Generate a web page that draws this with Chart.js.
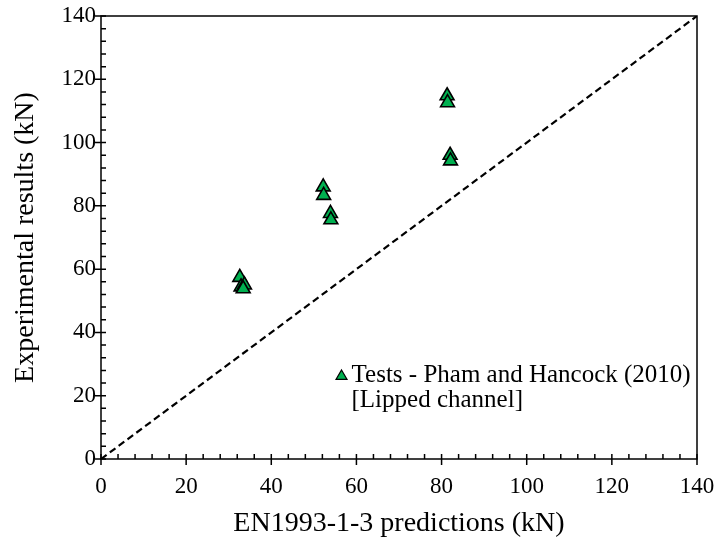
<!DOCTYPE html>
<html>
<head>
<meta charset="utf-8">
<script src="https://cdn.jsdelivr.net/npm/chart.js"></script>
<style>
  html, body { margin: 0; padding: 0; background: #fff; }
  #wrap { width: 716px; height: 543px; }
</style>
</head>
<body>
<div id="wrap"><canvas id="c" width="716" height="543"></canvas></div>
<script>
// EN1993-1-3 predictions (kN) vs experimental results (kN)
const predicted = [32.6, 32.9, 33.7, 33.4, 52.2, 52.3, 53.9, 54.0, 81.3, 81.4, 82.0, 82.1];
const experimental = [57.4, 54.4, 55.0, 53.8, 86.0, 83.3, 77.6, 75.6, 114.8, 112.6, 96.0, 94.2];
const equality = [0, 140];
const seriesLabel = ['Tests - Pham and Hancock (2010)', '[Lipped channel]'];
const xTitle = 'EN1993-1-3 predictions (kN)';
const yTitle = 'Experimental results (kN)';

const green = '#00b050';
const serif = "'Liberation Serif', 'Times New Roman', serif";

// frame + ticks (major outward, minor inward) + legend inside the plot
const framePlugin = {
  id: 'frame',
  afterDraw(chart) {
    const ctx = chart.ctx, a = chart.chartArea;
    const xs = chart.scales.x, ys = chart.scales.y;
    ctx.save();
    ctx.strokeStyle = '#000';
    ctx.lineWidth = 1.5;
    ctx.strokeRect(a.left, a.top, a.right - a.left, a.bottom - a.top);
    ctx.beginPath();
    for (let v = 0; v <= 140; v += 4) {
      const px = xs.getPixelForValue(v), py = ys.getPixelForValue(v);
      const major = v % 20 === 0;
      if (major) {
        ctx.moveTo(px, a.bottom - 5); ctx.lineTo(px, a.bottom + 6);
        ctx.moveTo(a.left - 6, py); ctx.lineTo(a.left + 5, py);
      } else {
        ctx.moveTo(px, a.bottom); ctx.lineTo(px, a.bottom - 5);
        ctx.moveTo(a.left, py); ctx.lineTo(a.left + 5, py);
      }
    }
    ctx.stroke();

    // legend
    const lx = xs.getPixelForValue(56.5), ly = ys.getPixelForValue(26.4);
    ctx.beginPath();
    ctx.moveTo(lx, ly - 5.5);
    ctx.lineTo(lx + 5.5, ly + 4);
    ctx.lineTo(lx - 5.5, ly + 4);
    ctx.closePath();
    ctx.fillStyle = green; ctx.fill();
    ctx.lineWidth = 1.2; ctx.stroke();
    ctx.fillStyle = '#000';
    ctx.font = '25px ' + serif;
    ctx.textBaseline = 'middle';
    ctx.fillText(seriesLabel[0], lx + 10, ly);
    ctx.fillText(seriesLabel[1], lx + 10, ly + 25);
    ctx.restore();
  }
};

new Chart(document.getElementById('c'), {
  type: 'scatter',
  data: {
    datasets: [
      {
        label: seriesLabel.join(' '),
        data: predicted.map((x, i) => ({ x: x, y: experimental[i] })),
        pointStyle: 'triangle',
        pointRadius: 8,
        backgroundColor: green,
        borderColor: '#000',
        borderWidth: 1.6
      },
      {
        label: 'equality',
        type: 'line',
        data: equality.map(v => ({ x: v, y: v })),
        borderColor: '#000',
        borderWidth: 2.2,
        borderDash: [7, 4],
        pointRadius: 0,
        fill: false
      }
    ]
  },
  plugins: [framePlugin],
  options: {
    responsive: false,
    animation: false,
    layout: { padding: { top: 16, right: 19, left: 0, bottom: 0 } },
    plugins: { legend: { display: false }, tooltip: { enabled: false } },
    scales: {
      x: {
        type: 'linear', min: 0, max: 140,
        grid: { display: false, tickLength: 4 },
        border: { display: false },
        ticks: { stepSize: 20, color: '#000', padding: 10, font: { family: serif, size: 23 } },
        title: { display: true, text: xTitle, color: '#000', font: { family: serif, size: 28 }, padding: { top: 4, bottom: 3 } },
        afterFit(s) { s.height = 84; s.paddingLeft = 0; s.paddingRight = 0; }
      },
      y: {
        type: 'linear', min: 0, max: 140,
        grid: { display: false, tickLength: 4 },
        border: { display: false },
        ticks: { stepSize: 20, color: '#000', padding: 1, font: { family: serif, size: 23 } },
        title: { display: true, text: yTitle, color: '#000', font: { family: serif, size: 28 }, padding: { top: 9, bottom: 4 } },
        afterFit(s) { s.width = 101; s.paddingTop = 0; s.paddingBottom = 0; }
      }
    }
  }
});
</script>
</body>
</html>
